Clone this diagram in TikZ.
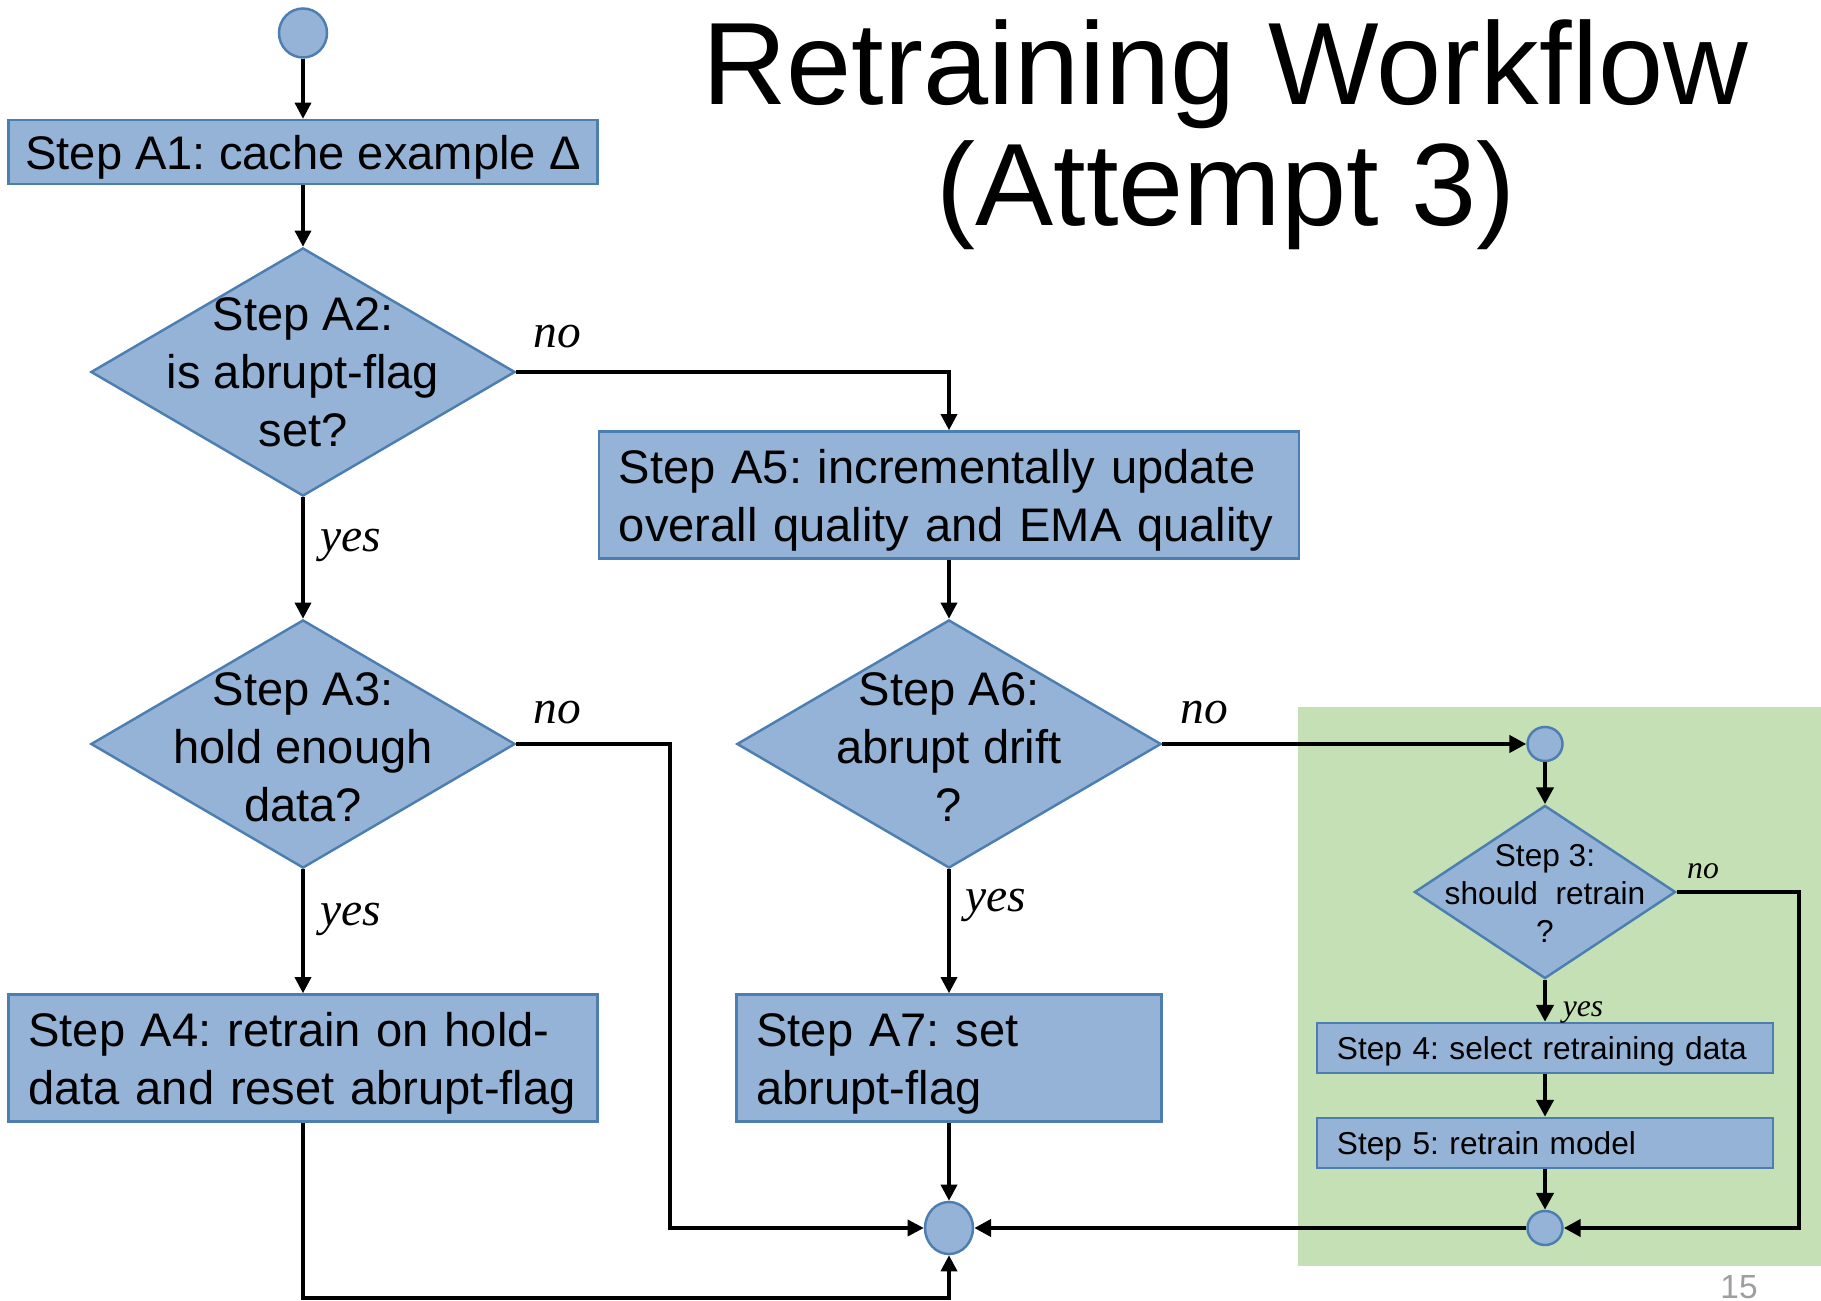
\documentclass[tikz,border=0pt]{standalone}
\usepackage{fontspec}
\setmainfont{Liberation Sans}
\newfontfamily\serifit{Liberation Serif}
\usetikzlibrary{shapes.geometric,arrows.meta}
\definecolor{boxfill}{HTML}{95B3D7}
\definecolor{boxline}{HTML}{4D7EB2}
\definecolor{greenbg}{HTML}{C5E0B4}
\frenchspacing
\begin{document}
\frenchspacing
\begin{tikzpicture}[x=0.01cm,y=-0.01cm,
  bigtext/.style={font=\fontsize{13.4}{16.5}\selectfont},
  smalltext/.style={font=\fontsize{9}{10.8}\selectfont},
  stepbox/.style={draw=boxline,fill=boxfill,line width=0.7pt,rectangle,inner xsep=0.2cm,inner ysep=0pt},
  oneline/.style={text depth=0pt},
  twoline/.style={text height=9.8pt,text depth=16.5pt},
  dia/.style={draw=boxline,fill=boxfill,line width=0.7pt,diamond,inner sep=0pt},
  dot/.style={draw=boxline,fill=boxfill,line width=0.7pt,ellipse,inner sep=0pt},
  arr/.style={draw=black,line width=0.95pt,-{Triangle[length=4.6pt,width=4.6pt]}},
  tarr/.style={draw=black,line width=1.3pt,-{Triangle[length=4.8pt,width=4.8pt]}},
  lab/.style={font=\serifit\itshape\fontsize{13.5}{15}\selectfont,inner sep=0pt},
  slab/.style={font=\serifit\itshape\fontsize{9}{10}\selectfont,inner sep=0pt}]
\useasboundingbox (0,0) rectangle (1821,1301);
\fill[greenbg] (1298,707) rectangle (1821,1266);

% title
\node[anchor=base,font=\fontsize{33.3}{38}\selectfont,inner sep=0pt] (title1) at (1225,105) {Retraining Workflow};
\node[anchor=base,font=\fontsize{33.3}{38}\selectfont,inner sep=0pt] (title2) at (1226,226) {(Attempt 3)};

% nodes
\node[dot,minimum width=0.48cm,minimum height=0.49cm] (start) at (303,33) {};
\node[stepbox,oneline,bigtext,inner xsep=0.05cm,minimum width=5.89cm,minimum height=0.64cm,align=center] (a1) at (303,152) {Step A1: cache example Δ};
\node[dia,minimum width=4.24cm,minimum height=2.48cm] (a2) at (303,372) {};
\node[bigtext,align=center,inner sep=0pt] (a2t) at (303,372) {Step A2:\\is abrupt-flag\\set?};
\node[stepbox,twoline,bigtext,minimum width=7.0cm,minimum height=1.27cm,text width=6.6cm,align=left] (a5) at (949,495) {Step A5: incrementally update\\overall quality and EMA quality};
\node[dia,minimum width=4.24cm,minimum height=2.48cm] (a3) at (303,744) {};
\node[bigtext,align=center,inner sep=0pt] (a3t) at (303,747) {Step A3:\\hold enough\\data?};
\node[dia,minimum width=4.24cm,minimum height=2.48cm] (a6) at (949,744) {};
\node[bigtext,align=center,inner sep=0pt] (a6t) at (949,747) {Step A6:\\abrupt drift\\?};
\node[stepbox,twoline,bigtext,minimum width=5.89cm,minimum height=1.27cm,text width=5.49cm,align=left] (a4) at (303,1058) {Step A4: retrain on hold-\\data and reset abrupt-flag};
\node[stepbox,twoline,bigtext,minimum width=4.25cm,minimum height=1.27cm,text width=3.85cm,align=left] (a7) at (949,1058) {Step A7: set\\abrupt-flag};
\node[dot,minimum width=0.48cm,minimum height=0.52cm] (merge) at (949,1228) {};

\node[dot,minimum width=0.35cm,minimum height=0.34cm] (c1) at (1545,744) {};
\node[dia,minimum width=2.61cm,minimum height=1.73cm] (s3) at (1545,892) {};
\node[smalltext,align=center,inner sep=0pt] (s3t) at (1545,893) {Step 3:\\should~ retrain\\?};
\node[stepbox,oneline,smalltext,minimum width=4.56cm,minimum height=0.50cm,text width=4.16cm,align=left] (s4) at (1545,1048) {Step 4: select retraining data};
\node[stepbox,oneline,smalltext,minimum width=4.56cm,minimum height=0.50cm,text width=4.16cm,align=left] (s5) at (1545,1143) {Step 5: retrain model};
\node[dot,minimum width=0.35cm,minimum height=0.34cm] (c2) at (1545,1228) {};

\coordinate (k1) at (670,744);
\coordinate (k2) at (303,1298);
\coordinate (k3) at (1799,892);

% connectors
\draw[arr] (start) -- (a1);
\draw[arr] (a1) -- (a2);
\draw[arr] (a2.east) -| (a5.north);
\draw[arr] (a2.south) -- (a3.north);
\draw[arr] (a3.east) -- (k1) |- (merge.west);
\draw[arr] (a3.south) -- (a4.north);
\draw[arr] (a5.south) -- (a6.north);
\draw[arr] (a6.south) -- (a7.north);
\draw[tarr] (a6.east) -- (c1.west);
\draw[arr] (a7.south) -- (merge.north);
\draw[arr] (a4.south) -- (k2) -| (merge.south);
\draw[tarr] (c1) -- (s3.north);
\draw[tarr] (s3.south) -- (s4.north);
\draw[tarr] (s3.east) -- (k3) |- (c2.east);
\draw[tarr] (s4) -- (s5);
\draw[tarr] (s5) -- (c2);
\draw[tarr] (c2.west) -- (merge.east);

% labels
\node[lab] (l1) at (557,337) {no};
\node[lab] (l2) at (351,545) {yes};
\node[lab] (l3) at (557,713) {no};
\node[lab] (l4) at (351,919) {yes};
\node[lab] (l5) at (1204,713) {no};
\node[lab] (l6) at (996,905) {yes};
\node[slab] (l7) at (1703,871) {no};
\node[slab] (l8) at (1583,1012) {yes};
\node[font=\fontsize{9.5}{11}\selectfont,text=black!38,inner sep=0pt] (pg) at (1739,1287) {15};
\end{tikzpicture}
\end{document}
